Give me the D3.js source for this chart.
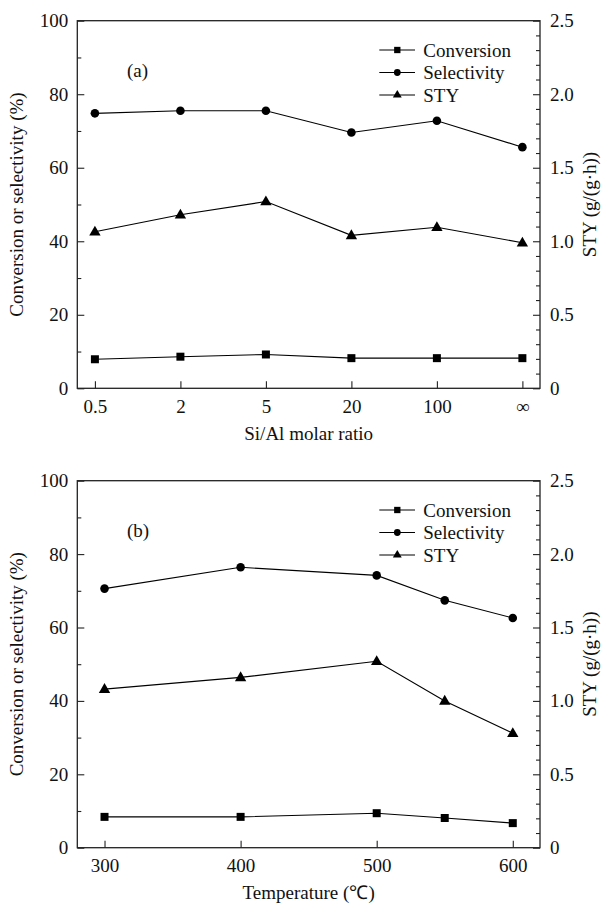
<!DOCTYPE html>
<html>
<head>
<meta charset="utf-8">
<script src="https://cdn.jsdelivr.net/npm/d3@7"></script>
<style>
  html, body { margin: 0; padding: 0; background: #fff; }
  svg { display: block; }
  text { font-family: "Liberation Serif", "Times New Roman", serif; fill: #111; }
</style>
</head>
<body>
<svg id="chart" width="605" height="904"></svg>
<script>
// Panel (a): effect of Si/Al molar ratio
const siAlRatios = ["0.5", "2", "5", "20", "100", "\u221E"];
const conversionA = [7.9, 8.6, 9.2, 8.2, 8.2, 8.2];
const selectivityA = [74.8, 75.5, 75.5, 69.6, 72.8, 65.6];
const styA = [1.065, 1.18, 1.27, 1.04, 1.095, 0.99];

// Panel (b): effect of reaction temperature
const temperatures = [300, 400, 500, 550, 600];
const conversionB = [8.4, 8.4, 9.4, 8.1, 6.7];
const selectivityB = [70.6, 76.4, 74.2, 67.4, 62.6];
const styB = [1.08, 1.16, 1.27, 1.00, 0.78];

// Axis ticks
const leftTicks = [0, 20, 40, 60, 80, 100];
const rightTicks = [0, 0.5, 1.0, 1.5, 2.0, 2.5];
const rightTickLabels = ["0", "0.5", "1.0", "1.5", "2.0", "2.5"];
const tempTicks = [300, 400, 500, 600];

const seriesNames = ["Conversion", "Selectivity", "STY"];

const svg = d3.select("#chart");
const left = 77.3, right = 540;
const axisColor = "#222";
const fontSize = 19;

const symbols = [d3.symbolSquare, d3.symbolCircle, d3.symbolTriangle];
const markerSize = [64, 58, 56];
const legendMarkerSize = [40, 36, 34];

function drawPanel(cfg) {
  const g = svg.append("g");
  const top = cfg.top, bottom = cfg.bottom;

  const y = d3.scaleLinear().domain([0, 100]).range([bottom, top]);
  const y2 = d3.scaleLinear().domain([0, 2.5]).range([bottom, top]);
  const x = cfg.x;

  // frame
  g.append("rect")
    .attr("x", left).attr("y", top)
    .attr("width", right - left).attr("height", bottom - top)
    .attr("fill", "none").attr("stroke", axisColor).attr("stroke-width", 1.3);

  // left axis: major ticks every 20, minor every 10, ticks pointing inward
  const leftAxis = d3.axisLeft(y).tickValues(leftTicks).tickSize(-7).tickPadding(9)
    .tickFormat(d3.format("d"));
  g.append("g").attr("transform", `translate(${left},0)`).call(leftAxis);
  const leftMinor = d3.axisLeft(y).tickValues(d3.range(10, 100, 20)).tickSize(-4).tickFormat("");
  g.append("g").attr("transform", `translate(${left},0)`).call(leftMinor);

  // right axis: major every 0.5, minor every 0.1
  const rightAxis = d3.axisRight(y2).tickValues(rightTicks).tickSize(-7).tickPadding(10)
    .tickFormat((d, i) => rightTickLabels[i]);
  g.append("g").attr("transform", `translate(${right},0)`).call(rightAxis);
  const minorVals = d3.range(1, 25).map(d => d / 10).filter(v => Math.abs(v * 2 - Math.round(v * 2)) > 1e-6);
  const rightMinor = d3.axisRight(y2).tickValues(minorVals).tickSize(-4).tickFormat("");
  g.append("g").attr("transform", `translate(${right},0)`).call(rightMinor);

  // bottom axis
  const bottomAxis = d3.axisBottom(x).tickSize(-7).tickPadding(11);
  if (cfg.xTicks) bottomAxis.tickValues(cfg.xTicks);
  g.append("g").attr("transform", `translate(0,${bottom})`).call(bottomAxis);

  g.selectAll(".domain").remove();
  g.selectAll(".tick line").attr("stroke", axisColor).attr("stroke-width", 1.1);
  g.selectAll(".tick text")
    .attr("font-family", "Liberation Serif, Times New Roman, serif")
    .attr("font-size", fontSize).attr("fill", "#111");

  // series
  const series = [
    { vals: cfg.conversion, scale: y },
    { vals: cfg.selectivity, scale: y },
    { vals: cfg.sty, scale: y2 }
  ];
  series.forEach((s, i) => {
    const pts = cfg.cats.map((c, j) => [x(c), s.scale(s.vals[j])]);
    g.append("path")
      .attr("d", d3.line()(pts))
      .attr("fill", "none").attr("stroke", "#000").attr("stroke-width", 1.1);
    g.selectAll(null).data(pts).enter().append("path")
      .attr("transform", d => `translate(${d[0]},${d[1] + (i === 2 ? 0.5 : 0)})`)
      .attr("d", d3.symbol().type(symbols[i]).size(markerSize[i]))
      .attr("fill", "#000");
  });

  // panel tag
  g.append("text").attr("x", 127).attr("y", top + 56)
    .attr("font-size", fontSize).text(cfg.tag);

  // legend
  seriesNames.forEach((name, i) => {
    const ly = top + 29.3 + i * 22.5;
    g.append("line").attr("x1", 379.3).attr("x2", 415).attr("y1", ly).attr("y2", ly)
      .attr("stroke", "#000").attr("stroke-width", 1.1);
    g.append("path").attr("transform", `translate(397.3,${ly})`)
      .attr("d", d3.symbol().type(symbols[i]).size(legendMarkerSize[i]))
      .attr("fill", "#000");
    g.append("text").attr("x", 423.3).attr("y", ly + 6.5)
      .attr("font-size", fontSize).text(name);
  });

  // axis titles
  g.append("text")
    .attr("transform", `translate(23,${(top + bottom) / 2}) rotate(-90)`)
    .attr("text-anchor", "middle").attr("font-size", fontSize)
    .text("Conversion or selectivity (%)");
  g.append("text")
    .attr("transform", `translate(596,${(top + bottom) / 2}) rotate(-90)`)
    .attr("text-anchor", "middle").attr("font-size", fontSize)
    .text("STY (g/(g\u00B7h))");
  g.append("text")
    .attr("x", (left + right) / 2).attr("y", bottom + 51.5)
    .attr("text-anchor", "middle").attr("font-size", fontSize)
    .text(cfg.xTitle);
}

// panel (a): categorical ratio axis
const xA = d3.scalePoint().domain(siAlRatios).range([left, right]).padding(0.206);
drawPanel({
  top: 20.7, bottom: 388.3, x: xA, cats: siAlRatios,
  conversion: conversionA, selectivity: selectivityA, sty: styA,
  tag: "(a)", xTitle: "Si/Al molar ratio"
});

// panel (b): temperature axis
const xB = d3.scaleLinear().domain([280, 620]).range([left, right]);
drawPanel({
  top: 480.7, bottom: 847.7, x: xB, cats: temperatures, xTicks: tempTicks,
  conversion: conversionB, selectivity: selectivityB, sty: styB,
  tag: "(b)", xTitle: "Temperature (\u2103)"
});
</script>
</body>
</html>
